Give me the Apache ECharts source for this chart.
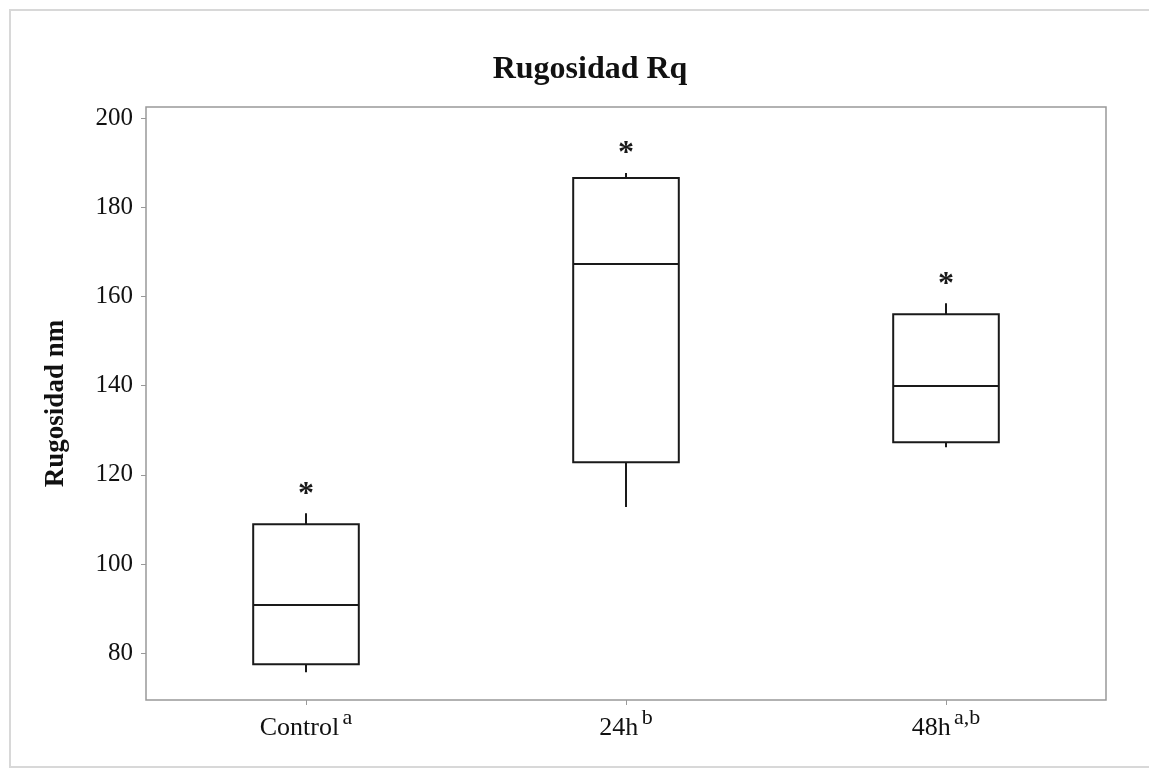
<!DOCTYPE html>
<html>
<head>
<meta charset="utf-8">
<script src="https://cdn.jsdelivr.net/npm/echarts@6/dist/echarts.min.js"></script>
<style>html,body{margin:0;padding:0;background:#fff}#c{width:1149px;height:770px}</style>
</head>
<body>
<div id="c"></div>
<script>
const categories = ['Control', '24h', '48h'];
const superscripts = ['a', 'b', 'a,b'];
const whiskerLow = [75.7, 112.8, 126.2];
const q1 = [77.5, 122.8, 127.3];
const median = [90.8, 167.3, 139.9];
const q3 = [108.9, 186.6, 156.0];
const whiskerHigh = [111.4, 187.7, 158.5];
const outliers = [117.2, 193.5, 164.1];
const yTicks = [80, 100, 120, 140, 160, 180, 200];

const FONT = '"Liberation Serif", "Times New Roman", serif';
const chart = echarts.init(document.getElementById('c'), null, {renderer: 'canvas'});

const boxData = categories.map((c, i) => [i, whiskerLow[i], q1[i], median[i], q3[i], whiskerHigh[i], outliers[i]]);

function renderBox(params, api) {
  const i = api.value(0);
  const bw = api.size([1, 0])[0] * 0.33;
  const pLow = api.coord([i, api.value(1)]);
  const pQ1 = api.coord([i, api.value(2)]);
  const pMed = api.coord([i, api.value(3)]);
  const pQ3 = api.coord([i, api.value(4)]);
  const pHigh = api.coord([i, api.value(5)]);
  const pOut = api.coord([i, api.value(6)]);
  const x = pQ1[0];
  const ls = {stroke: '#1a1a1a', lineWidth: 2, fill: null};
  return {
    type: 'group',
    children: [
      {type: 'rect', shape: {x: x - bw / 2, y: pQ3[1], width: bw, height: pQ1[1] - pQ3[1]}, style: {stroke: '#1a1a1a', lineWidth: 2, fill: '#fff'}},
      {type: 'line', shape: {x1: x - bw / 2, y1: pMed[1], x2: x + bw / 2, y2: pMed[1]}, style: ls},
      {type: 'line', shape: {x1: x, y1: pQ3[1], x2: x, y2: pHigh[1]}, style: ls},
      {type: 'line', shape: {x1: x, y1: pQ1[1], x2: x, y2: pLow[1]}, style: ls},
      {type: 'text', x: x, y: pOut[1] + 7, style: {text: '*', fontSize: 32, fontWeight: 'bold', fontFamily: FONT, fill: '#1a1a1a', align: 'center', verticalAlign: 'middle'}}
    ]
  };
}

const option = {
  backgroundColor: '#fff',
  animation: false,
  graphic: [{type: 'rect', shape: {x: 10, y: 10, width: 1150, height: 757}, style: {fill: null, stroke: '#d8d8d8', lineWidth: 2}, silent: true}],
  title: {
    text: 'Rugosidad Rq', left: 585, top: 49, textAlign: 'center',
    textStyle: {fontFamily: FONT, fontSize: 32, fontWeight: 'bold', color: '#111'}
  },
  grid: {left: 146, right: 43, top: 107, bottom: 70, show: true, borderColor: '#999', borderWidth: 1.5, backgroundColor: '#fff'},
  xAxis: {
    type: 'category', data: categories,
    axisLine: {show: false},
    axisTick: {show: true, alignWithLabel: true, length: 5, lineStyle: {color: '#999'}},
    axisLabel: {
      margin: 7, color: '#111',
      formatter: (v, i) => '{n|' + v + '} {s|' + superscripts[i] + '}',
      rich: {
        n: {fontFamily: FONT, fontSize: 26, color: '#111', verticalAlign: 'bottom', lineHeight: 34},
        s: {fontFamily: FONT, fontSize: 22, color: '#111', verticalAlign: 'top', lineHeight: 20}
      }
    },
    splitLine: {show: false}
  },
  yAxis: {
    type: 'value', min: 69.5, max: 202.5,
    name: 'Rugosidad nm', nameLocation: 'middle', nameGap: 76, nameRotate: 90,
    nameTextStyle: {fontFamily: FONT, fontSize: 27, fontWeight: 'bold', color: '#111'},
    axisLine: {show: false},
    axisTick: {show: true, length: 5, lineStyle: {color: '#999'}, customValues: yTicks},
    axisLabel: {fontFamily: FONT, fontSize: 25, color: '#111', margin: 13, customValues: yTicks},
    splitLine: {show: false}
  },
  series: [{
    type: 'custom', renderItem: renderBox, data: boxData,
    encode: {x: 0, y: [1, 2, 3, 4, 5, 6]}, z: 5
  }]
};
chart.setOption(option);
</script>
</body>
</html>
